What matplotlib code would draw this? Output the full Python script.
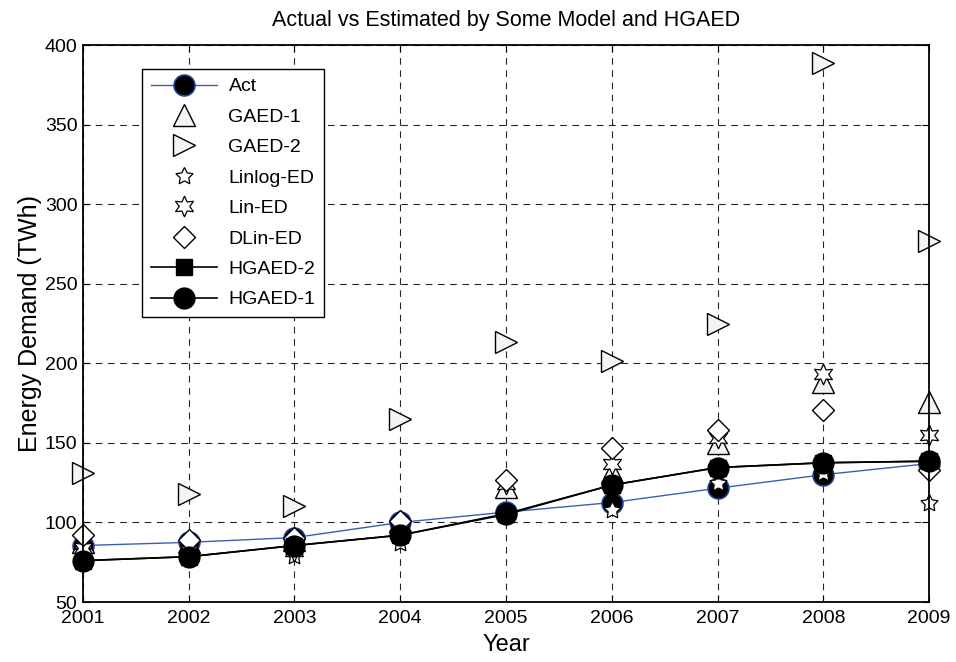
import numpy as np
import matplotlib.pyplot as plt
import matplotlib as mp
mp.rc('font', family=['Liberation Sans', 'DejaVu Sans'], size=14)

# energy demand (TWh), actual and model estimates
years = [2001, 2002, 2003, 2004, 2005, 2006, 2007, 2008, 2009]
act = [85.5, 87.5, 90.5, 100, 106.5, 112.5, 121.5, 130, 137]
gaed1 = [88, 88, 89, 101, 122, 132, 150, 188, 175.5]
gaed2 = [131, 118, 110.5, 165, 213.5, 201.5, 225, 389, 277]
linlog = [82, 85, 79, 87, 104, 108, 125, 131, 112]
lin = [84, 86, 82, 92, 124, 137, 153, 193.5, 155]
dlin = [92, 89, 90, 101, 126.5, 146.5, 158, 170.5, 133]
hgaed2 = [76, 78.5, 85.5, 92, 105, 123.5, 134.5, 137.5, 138.5]
hgaed1 = [76, 78.5, 85.5, 92, 105.5, 123.5, 134.5, 137.5, 138.5]

fig = plt.figure(figsize=[9.56, 6.62], dpi=100)
ax = fig.add_axes([0.0868, 0.0906, 0.885, 0.8414])

kw = dict(clip_on=False, zorder=3)
ax.plot(years, act, '-o', color='#3a5fb0', lw=1, markersize=15,
        markerfacecolor='k', markeredgecolor='#1f3f8f', markeredgewidth=1.2, label='Act', **kw)
ax.plot(years, gaed1, '^', markersize=16, markerfacecolor='#f4f4f4',
        markeredgecolor='k', markeredgewidth=1, label='GAED-1', **kw)
ax.plot(years, gaed2, '>', markersize=16, markerfacecolor='#f4f4f4',
        markeredgecolor='k', markeredgewidth=1, label='GAED-2', **kw)
ax.plot(years, linlog, marker=(5, 1, 0), ls='none', markersize=13, markerfacecolor='w',
        markeredgecolor='k', markeredgewidth=0.9, label='Linlog-ED', **kw)
ax.plot(years, lin, marker=(6, 1, 0), ls='none', markersize=15, markerfacecolor='w',
        markeredgecolor='k', markeredgewidth=0.9, label='Lin-ED', **kw)
ax.plot(years, dlin, 'D', markersize=11, markerfacecolor='w',
        markeredgecolor='k', markeredgewidth=1, label='DLin-ED', **kw)
ax.plot(years, hgaed2, '-s', color='k', lw=1.2, markersize=12, label='HGAED-2', **kw)
ax.plot(years, hgaed1, '-o', color='k', lw=1.2, markersize=15, label='HGAED-1', **kw)

ax.set_xlim([2001, 2009])
ax.set_ylim([50, 400])
ax.set_xticks(years)
ax.set_yticks(np.arange(50, 401, 50))
ax.grid(True, ls=(0, (6, 5)), color='k', lw=0.8, alpha=0.85)
ax.tick_params(direction='in', top=True, right=True, length=5, labelsize=14)
ax.tick_params(axis='x', pad=6)
ax.tick_params(axis='y', pad=4)
for s in ax.spines.values():
    s.set_linewidth(1.3)
    s.set_zorder(4)

ax.set_xlabel('Year', fontsize=17, labelpad=5)
ax.set_ylabel('Energy Demand (TWh)', fontsize=18, labelpad=2)
ax.set_title('Actual vs Estimated by Some Model and HGAED', fontsize=15.5, pad=14)

leg = ax.legend(loc='upper left', bbox_to_anchor=(0.0697, 0.957), borderaxespad=0,
                fontsize=14, frameon=True, fancybox=False, edgecolor='k', framealpha=1,
                labelspacing=0.66, handlelength=3.4, borderpad=0.45,
                handletextpad=0.6)
leg.get_frame().set_linewidth(1)
leg.set_zorder(5)

fig.savefig('out.png', dpi=100)
